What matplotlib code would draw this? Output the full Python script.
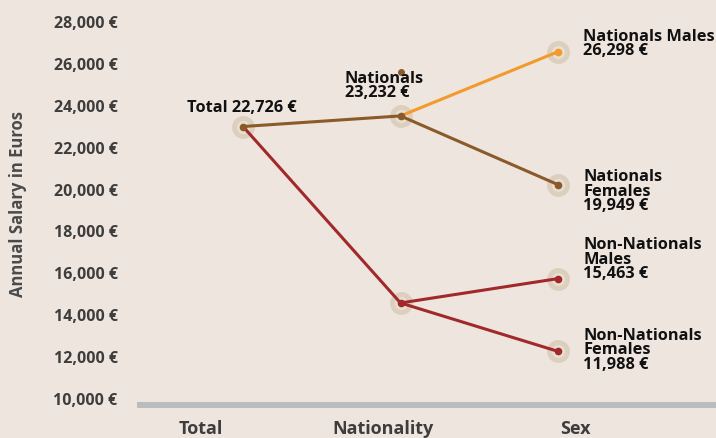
import matplotlib.pyplot as plt
import matplotlib.transforms as mtransforms

# Data
stages = ["Total", "Nationality", "Sex"]
stage_label_pos = [-0.27, 0.89, 2.11]  # where the stage names sit under the axis

total = 22726
nationals = 23232
non_nationals = 14300  # not labelled in the source
nat_males = 26298
nat_females = 19949
nn_males = 15463
nn_females = 11988
stray_value = 25330  # small brown dot above the Nationals label

BG = "#eee5de"
BROWN = "#8b5a2b"
ORANGE = "#f39a2c"
RED = "#a2292b"
HALO = "#dccfbd"
FONT = ["Open Sans", "DejaVu Sans"]

plt.rcParams["font.family"] = FONT
plt.rcParams["font.weight"] = "bold"

fig = plt.figure(figsize=(7.16, 4.38), dpi=100, facecolor=BG)
ax = fig.add_axes([137 / 716, 33 / 438, 1 - 137 / 716, 405 / 438])
ax.set_facecolor(BG)

# segments: (x0, y0, x1, y1, colour)
segments = [
    (0, total, 1, nationals, BROWN),
    (1, nationals, 2, nat_males, ORANGE),
    (1, nationals, 2, nat_females, BROWN),
    (0, total, 1, non_nationals, RED),
    (1, non_nationals, 2, nn_males, RED),
    (1, non_nationals, 2, nn_females, RED),
]
for x0, y0, x1, y1, c in segments:
    ax.plot([x0, x1], [y0, y1], color=c, lw=2.2, solid_capstyle="round", zorder=3)

# halo rings + dots
points = [
    (0, total, BROWN),
    (1, nationals, BROWN),
    (1, non_nationals, RED),
    (2, nat_males, ORANGE),
    (2, nat_females, BROWN),
    (2, nn_males, RED),
    (2, nn_females, RED),
]
for x, y, c in points:
    ax.plot(x, y, "o", ms=13, mfc="#e9ded2", mec=HALO, mew=3.5, zorder=2)
    ax.plot(x, y, "o", ms=4.5, color=c, zorder=4)
ax.plot(1, stray_value, "o", ms=4, color=BROWN, zorder=4)

# value labels
labels = [
    (0, total, f"Total {total:,} €", -56, 19),
    (1, nationals, f"Nationals\n{nationals:,} €", -56, 30),
    (2, nat_males, f"Nationals Males\n{nat_males:,} €", 25, 8),
    (2, nat_females, f"Nationals\nFemales\n{nat_females:,} €", 25, -7),
    (2, nn_males, f"Non-Nationals\nMales\n{nn_males:,} €", 25, 19),
    (2, nn_females, f"Non-Nationals\nFemales\n{nn_females:,} €", 25, 1),
]
for x, y, txt, dx, dy in labels:
    ax.annotate(txt, (x, y), xytext=(dx, dy), textcoords="offset pixels",
                ha="left", va="center", fontsize=11.8, fontweight="bold",
                color="#111111", linespacing=0.85, zorder=5)

ax.set_xlim(-0.673, 3.003)
ax.set_ylim(9427, 28768)

ticks = list(range(10000, 28001, 2000))
ax.set_yticks(ticks)
ax.set_yticklabels([f"{t:,} €" for t in ticks])
ax.tick_params(axis="y", length=0, pad=14, labelsize=11.5, labelcolor="#3d3d3d")
shift = mtransforms.ScaledTranslation(0, -6 / 100, fig.dpi_scale_trans)
for lab in ax.get_yticklabels():
    lab.set_transform(lab.get_transform() + shift)
    lab.set_fontweight("bold")

ax.set_xticks(stage_label_pos)
ax.set_xticklabels(stages)
ax.tick_params(axis="x", length=0, pad=11, labelsize=13, labelcolor="#3d3d3d")
for lab in ax.get_xticklabels():
    lab.set_fontweight("bold")

for side in ["top", "right", "left"]:
    ax.spines[side].set_visible(False)
ax.spines["bottom"].set_color("#bbbcbe")
ax.spines["bottom"].set_linewidth(4.3)
ax.spines["bottom"].set_capstyle("butt")

fig.text(18 / 716, 1 - 204 / 438, "Annual Salary in Euros", rotation=90,
         ha="center", va="center", fontsize=12, fontweight="bold", color="#4a4a4a")

fig.savefig("out.png", dpi=100, facecolor=BG)
